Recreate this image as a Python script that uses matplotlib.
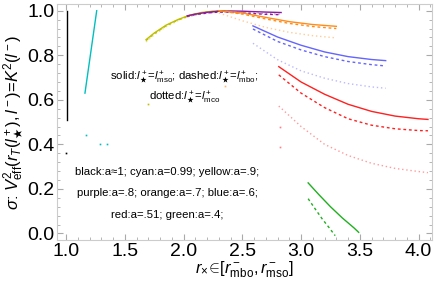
import numpy as np
import matplotlib
matplotlib.use("Agg")
from matplotlib import pyplot as plt
from matplotlib.ticker import MultipleLocator

# curves: (x, y) per spin a and per l* choice
black_x = [1.01, 1.01]
black_y = [0.51, 1.0]
cyan_x = [1.16, 1.26]
cyan_y = [0.63, 1.0]

yellow_x = [1.68, 1.75, 1.85, 1.95, 2.05, 2.15, 2.25, 2.35]
yellow_solid = [0.870, 0.900, 0.935, 0.960, 0.980, 0.992, 0.998, 1.0]
yellow_dashed = [0.866, 0.897, 0.932, 0.958, 0.978, 0.991, 0.997, 1.0]
yellow_dotted = [0.860, 0.892, 0.928, 0.955, 0.976, 0.989, 0.996, 0.999]

purple_x = [2.03, 2.1, 2.2, 2.3, 2.4, 2.5, 2.6, 2.7, 2.83]
purple_solid = [0.977, 0.985, 0.993, 0.998, 0.999, 0.998, 0.996, 0.994, 0.992]
purple_dashed = [0.975, 0.983, 0.990, 0.994, 0.993, 0.990, 0.987, 0.984, 0.982]
purple_dotted = [0.972, 0.981, 0.989, 0.995, 0.995, 0.993, 0.990, 0.987, 0.985]

orange_x = [2.3, 2.5, 2.7, 2.9, 3.1, 3.3]
orange_solid = [1.0, 0.990, 0.970, 0.951, 0.938, 0.930]
orange_dashed = [1.0, 0.985, 0.963, 0.943, 0.929, 0.920]
orange_dotted = [0.990, 0.955, 0.925, 0.903, 0.888, 0.878]

blue_x = [2.59, 2.8, 3.0, 3.2, 3.4, 3.6, 3.72]
blue_solid = [0.932, 0.882, 0.845, 0.815, 0.794, 0.781, 0.776]
blue_dashed = [0.918, 0.862, 0.824, 0.794, 0.772, 0.758, 0.752]
blue_dotted = [0.854, 0.780, 0.730, 0.697, 0.673, 0.658, 0.652]

red_x = [2.81, 3.0, 3.2, 3.4, 3.6, 3.8, 4.0, 4.08]
red_solid = [0.749, 0.680, 0.625, 0.580, 0.548, 0.527, 0.515, 0.512]
red_dashed = [0.712, 0.630, 0.565, 0.515, 0.486, 0.470, 0.462, 0.461]
red_dotted = [0.572, 0.480, 0.400, 0.350, 0.315, 0.292, 0.278, 0.273]

green_x = [3.06, 3.15, 3.25, 3.35, 3.45, 3.49]
green_solid = [0.227, 0.175, 0.120, 0.070, 0.025, 0.005]
green_dx = [3.06, 3.12, 3.18, 3.24, 3.29]
green_dashed = [0.156, 0.110, 0.065, 0.025, -0.010]

# isolated points (very short dashed/dotted pieces)
dots = [
    (1.00, 0.36, 'black'),
    (1.17, 0.44, '#00BFBF'),
    (1.29, 0.40, '#00BFBF'),
    (1.35, 0.40, '#00BFBF'),
    (1.70, 0.58, '#BFBF00'),
    (2.35, 0.66, '#FFB870'),
    (2.82, 0.48, '#FF8080'),
    (2.82, 0.39, '#FF8080'),
]

colors = {
    'yellow': '#BFBF00',
    'purple': '#8B1A9E',
    'orange': '#FF8C1A',
    'blue': '#6464FF',
    'red': '#FF2020',
    'green': '#1FB01F',
}


def main():
    plt.rcParams['font.family'] = ['Liberation Sans', 'DejaVu Sans']
    plt.rcParams['mathtext.fontset'] = 'custom'
    plt.rcParams['mathtext.rm'] = 'Liberation Sans'
    plt.rcParams['mathtext.it'] = 'Liberation Sans:italic'

    fig = plt.figure(figsize=(4.36, 2.90), dpi=100)
    ax = fig.add_axes([0.131, 0.172, 0.860, 0.814])

    lw = 1.0
    ax.plot(black_x, black_y, color='black', lw=lw)
    ax.plot(cyan_x, cyan_y, color='#00BFBF', lw=lw)

    groups = [
        ('yellow', yellow_x, yellow_solid, yellow_dashed, yellow_dotted),
        ('purple', purple_x, purple_solid, purple_dashed, purple_dotted),
        ('orange', orange_x, orange_solid, orange_dashed, orange_dotted),
        ('blue', blue_x, blue_solid, blue_dashed, blue_dotted),
        ('red', red_x, red_solid, red_dashed, red_dotted),
    ]
    for name, xs, ys, yd, yo in groups:
        c = colors[name]
        ax.plot(xs, ys, color=c, lw=lw)
        ax.plot(xs, yd, color=c, lw=lw, ls=(0, (2, 2)))
        ax.plot(xs, yo, color=c, lw=lw, ls=(0, (1, 2)), alpha=0.45)

    ax.plot(green_x, green_solid, color=colors['green'], lw=lw)
    ax.plot(green_dx, green_dashed, color=colors['green'], lw=lw, ls=(0, (2, 2)))

    for x, y, c in dots:
        ax.plot([x], [y], marker='s', ms=1.2, color=c, mew=0)

    fs = 8.2
    ax.text(2.01, 0.70,
            r'solid:$l^+_\bigstar$=$l^+_{\rm mso}$; dashed:$l^+_\bigstar$=$l^+_{\rm mbo}$;',
            ha='center', va='center', fontsize=fs)
    ax.text(2.01, 0.61, r'dotted:$l^+_\bigstar$=$l^+_{\rm mco}$',
            ha='center', va='center', fontsize=fs)

    ax.text(1.86, 0.275, 'black:a\u22481; cyan:a=0.99; yellow:a=.9;',
            ha='center', va='center', fontsize=fs)
    ax.text(1.86, 0.18, 'purple:a=.8; orange:a=.7; blue:a=.6;',
            ha='center', va='center', fontsize=fs)
    ax.text(1.86, 0.085, 'red:a=.51; green:a=.4;',
            ha='center', va='center', fontsize=fs)

    ax.set_xlim(0.923, 4.115)
    ax.set_ylim(-0.03, 1.03)
    ax.xaxis.set_major_locator(MultipleLocator(0.5))
    ax.xaxis.set_minor_locator(MultipleLocator(0.1))
    ax.yaxis.set_major_locator(MultipleLocator(0.2))
    ax.yaxis.set_minor_locator(MultipleLocator(0.04))
    ax.tick_params(which='both', direction='in', top=True, right=True,
                   color='#AAAAAA', labelsize=14, pad=2)
    ax.tick_params(which='major', length=4)
    ax.tick_params(which='minor', length=2)
    for s in ax.spines.values():
        s.set_color('#CCCCCC')

    ax.set_xlabel(r'$r_{\times}\!\in\![r^-_{\rm mbo},r^-_{\rm mso}]$', fontsize=12, labelpad=0)
    ax.set_ylabel(r'$\sigma$: $V^2_{\rm eff}(r_T(l^+_\bigstar),l^-)$=$K^2(l^-)$',
                  fontsize=12, labelpad=1)

    fig.savefig('out.png', dpi=100)


if __name__ == '__main__':
    main()
